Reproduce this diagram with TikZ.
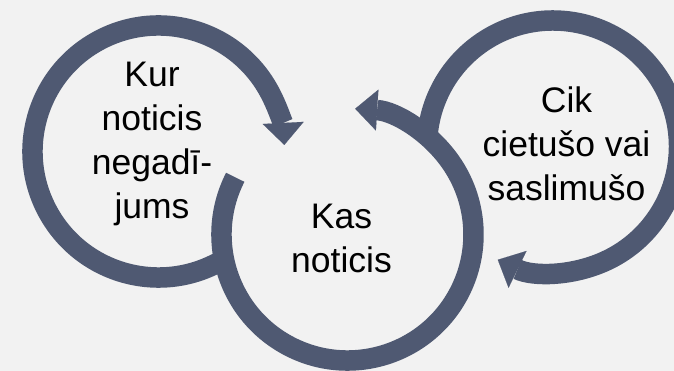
\documentclass[tikz,border=0pt]{standalone}
\usepackage{fontspec}
\setmainfont{Liberation Sans}
\usetikzlibrary{arrows.meta}
\definecolor{ringcol}{RGB}{79,89,114}
\definecolor{bgcol}{RGB}{242,242,242}

\begin{document}
\begin{tikzpicture}[x=1pt,y=1pt,
  ring/.style={draw=ringcol,line width=20.5pt,
    -{Triangle[length=22pt,width=41pt,line width=0.1pt]}},
  txt/.style={align=center,font=\fontsize{35.5}{44}\selectfont}]
\fill[bgcol,use as bounding box] (0,0) rectangle (674,371);
\clip (0,0) rectangle (674,371);
\coordinate (C1) at (158.5,219.5);
\coordinate (C2) at (347.5,136.5);
\coordinate (C3) at (553,224.5);
\draw[ring] (C1) ++(-61:126) arc[start angle=-61,end angle=-357,radius=126];
\draw[ring] (C3) ++(176:126) arc[start angle=176,end angle=-116,radius=126];
\draw[ring] (C2) ++(153:126) arc[start angle=153,end angle=446.5,radius=126];
\node[txt] (kur) at (152,227.5) {Kur\\noticis\\negadī-\\jums};
\node[txt] (kas) at (341.5,132.3) {Kas\\noticis};
\node[txt] (cik) at (566.5,226.8) {Cik\\cietušo vai\\saslimušo};
\end{tikzpicture}
\end{document}
